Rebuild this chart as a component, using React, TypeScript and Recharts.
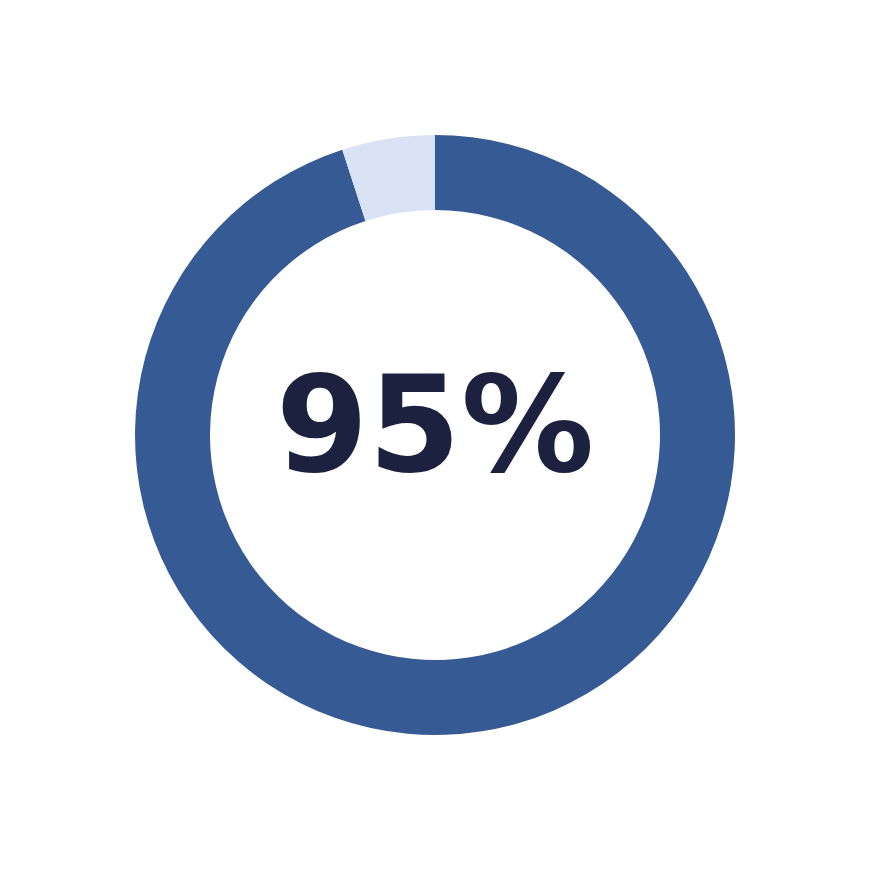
import { PieChart, Pie, Cell, Label } from "recharts";

const segmentNames = ["Complete", "Remaining"];
const segmentValues = [95, 5];
const segmentColors = ["#365a94", "#d9e3f5"];
const centerLabel = "95%";

const data = segmentNames.map((name, i) => ({ name, value: segmentValues[i] }));

export default function App() {
  return (
    <div style={{ position: "fixed", left: 0, top: 0, width: 870, height: 870, background: "#fff" }}>
      <PieChart width={870} height={870} margin={{ top: 0, right: 0, bottom: 0, left: 0 }}>
        <Pie
          data={data}
          dataKey="value"
          nameKey="name"
          cx={435}
          cy={435}
          innerRadius={225}
          outerRadius={300}
          startAngle={90}
          endAngle={-270}
          stroke="none"
          isAnimationActive={false}
        >
          {data.map((d, i) => (
            <Cell key={d.name} fill={segmentColors[i]} />
          ))}
          <Label
            value={centerLabel}
            position="center"
            fill="#1c2140"
            dy={-11}
            style={{ fontFamily: "DejaVu Sans", fontWeight: 700, fontSize: 133 }}
          />
        </Pie>
      </PieChart>
    </div>
  );
}
